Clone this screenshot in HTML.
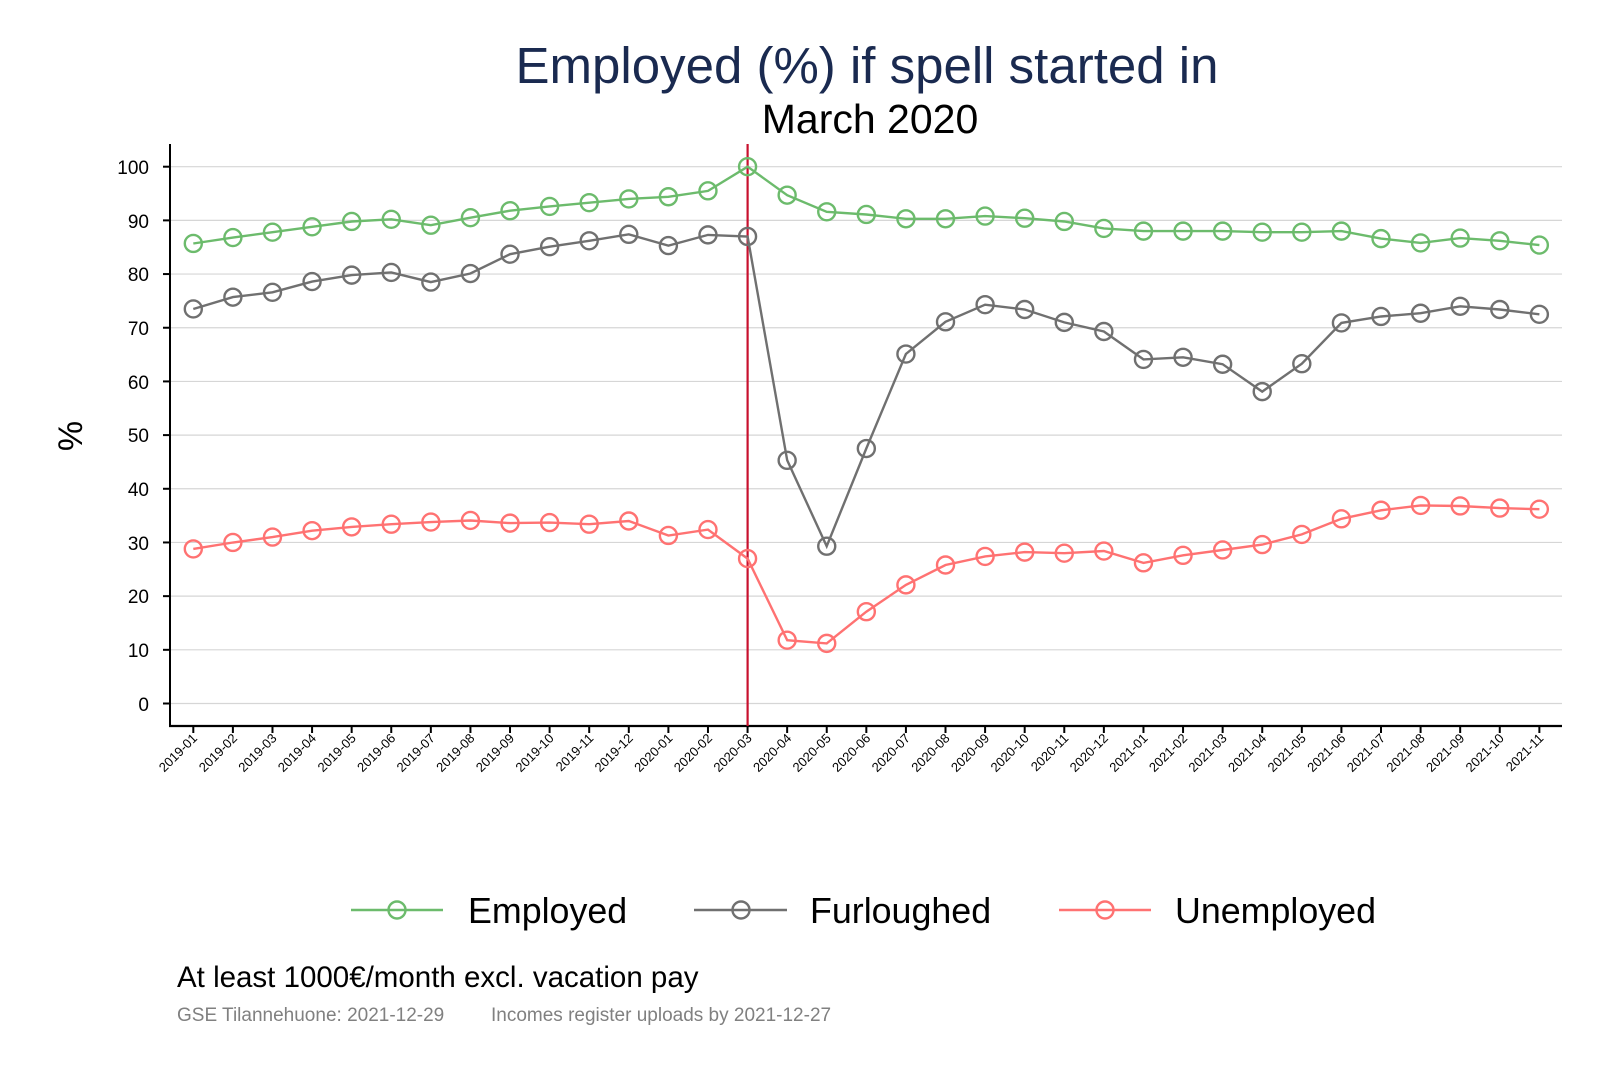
<!DOCTYPE html>
<html><head><meta charset="utf-8"><style>
html,body{margin:0;padding:0;background:#fff;}
svg{display:block;font-family:"Liberation Sans",Arial,sans-serif;}
</style></head><body>
<svg id="c" width="1600" height="1067" viewBox="0 0 1600 1067" xmlns="http://www.w3.org/2000/svg">
<rect width="1600" height="1067" fill="#fff"/>
<text x="867" y="83" font-size="51" fill="#1a2a50" text-anchor="middle">Employed (%) if spell started in</text>
<text x="870" y="133" font-size="41" fill="#000" text-anchor="middle">March 2020</text>
<g id="grid" stroke="#d6d6d6" stroke-width="1.2"></g>
<g font-size="19" text-anchor="end" fill="#000">
<text x="149" y="174">100</text><text x="149" y="228">90</text><text x="149" y="281">80</text><text x="149" y="335">70</text><text x="149" y="389">60</text><text x="149" y="442">50</text><text x="149" y="496">40</text><text x="149" y="550">30</text><text x="149" y="603">20</text><text x="149" y="657">10</text><text x="149" y="711">0</text>
</g>
<text transform="translate(82,436) rotate(-90)" font-size="34" text-anchor="middle">%</text>
<g id="ticks" stroke="#000" stroke-width="2"></g>
<line x1="170" y1="144" x2="170" y2="726" stroke="#000" stroke-width="2"/>
<line x1="169" y1="726" x2="1562" y2="726" stroke="#000" stroke-width="2.2"/>
<line x1="747.6" y1="144" x2="747.6" y2="726" stroke="#c8102e" stroke-width="2.2"/>
<g id="series"></g>
<g font-size="13" text-anchor="end" fill="#000">
<text transform="translate(198,739) rotate(-45)">2019-01</text>
<text transform="translate(238,739) rotate(-45)">2019-02</text>
<text transform="translate(277.5,739) rotate(-45)">2019-03</text>
<text transform="translate(317,739) rotate(-45)">2019-04</text>
<text transform="translate(356.7,739) rotate(-45)">2019-05</text>
<text transform="translate(396.3,739) rotate(-45)">2019-06</text>
<text transform="translate(435.8,739) rotate(-45)">2019-07</text>
<text transform="translate(475.4,739) rotate(-45)">2019-08</text>
<text transform="translate(515,739) rotate(-45)">2019-09</text>
<text transform="translate(554.6,739) rotate(-45)">2019-10</text>
<text transform="translate(594.2,739) rotate(-45)">2019-11</text>
<text transform="translate(633.8,739) rotate(-45)">2019-12</text>
<text transform="translate(673.4,739) rotate(-45)">2020-01</text>
<text transform="translate(713,739) rotate(-45)">2020-02</text>
<text transform="translate(752.6,739) rotate(-45)">2020-03</text>
<text transform="translate(792.2,739) rotate(-45)">2020-04</text>
<text transform="translate(831.7,739) rotate(-45)">2020-05</text>
<text transform="translate(871.3,739) rotate(-45)">2020-06</text>
<text transform="translate(910.9,739) rotate(-45)">2020-07</text>
<text transform="translate(950.5,739) rotate(-45)">2020-08</text>
<text transform="translate(990.1,739) rotate(-45)">2020-09</text>
<text transform="translate(1029.7,739) rotate(-45)">2020-10</text>
<text transform="translate(1069.3,739) rotate(-45)">2020-11</text>
<text transform="translate(1108.9,739) rotate(-45)">2020-12</text>
<text transform="translate(1148.5,739) rotate(-45)">2021-01</text>
<text transform="translate(1188.1,739) rotate(-45)">2021-02</text>
<text transform="translate(1227.6,739) rotate(-45)">2021-03</text>
<text transform="translate(1267.2,739) rotate(-45)">2021-04</text>
<text transform="translate(1306.8,739) rotate(-45)">2021-05</text>
<text transform="translate(1346.4,739) rotate(-45)">2021-06</text>
<text transform="translate(1386,739) rotate(-45)">2021-07</text>
<text transform="translate(1425.6,739) rotate(-45)">2021-08</text>
<text transform="translate(1465.2,739) rotate(-45)">2021-09</text>
<text transform="translate(1504.8,739) rotate(-45)">2021-10</text>
<text transform="translate(1544.3,739) rotate(-45)">2021-11</text>
</g>
<g stroke-width="2.4" fill="none">
<line x1="351" y1="910" x2="443" y2="910" stroke="#6cbb6c"/><circle cx="397" cy="910" r="8.5" stroke="#6cbb6c"/>
<line x1="694" y1="910" x2="787" y2="910" stroke="#707070"/><circle cx="741" cy="910" r="8.5" stroke="#707070"/>
<line x1="1059" y1="910" x2="1151" y2="910" stroke="#ff7272"/><circle cx="1105" cy="910" r="8.5" stroke="#ff7272"/>
</g>
<g font-size="35.8" fill="#000">
<text x="468" y="923">Employed</text>
<text x="810" y="923">Furloughed</text>
<text x="1175" y="923">Unemployed</text>
</g>
<text x="177" y="987" font-size="29.5" fill="#000">At least 1000€/month excl. vacation pay</text>
<text x="177" y="1021" font-size="19" fill="#808080">GSE Tilannehuone: 2021-12-29</text>
<text x="491" y="1021" font-size="19" fill="#808080">Incomes register uploads by 2021-12-27</text>
</svg>
<script>
(function(){
var NS="http://www.w3.org/2000/svg";
function X(i){return 193.3+39.59*i;}
function Y(v){return 703.5-5.368*v;}
var g=document.getElementById("grid"),t=document.getElementById("ticks"),s=document.getElementById("series");
function el(p,n,a){var e=document.createElementNS(NS,n);for(var k in a)e.setAttribute(k,a[k]);p.appendChild(e);return e;}
for(var v=0;v<=100;v+=10){el(g,"line",{x1:171,x2:1562,y1:Y(v),y2:Y(v)});el(t,"line",{x1:163,x2:170,y1:Y(v),y2:Y(v)});}
for(var i=0;i<35;i++)el(t,"line",{x1:X(i),x2:X(i),y1:726,y2:733});
var data=[
["#6cbb6c",[85.7,86.8,87.8,88.8,89.8,90.2,89.1,90.5,91.8,92.6,93.3,94.0,94.4,95.5,100,94.7,91.6,91.1,90.3,90.3,90.8,90.4,89.8,88.5,88.0,88.0,88.0,87.8,87.8,88.0,86.6,85.8,86.7,86.2,85.4]],
["#707070",[73.5,75.7,76.6,78.6,79.8,80.3,78.5,80.1,83.7,85.1,86.2,87.4,85.3,87.3,87.0,45.3,29.3,47.5,65.1,71.1,74.3,73.4,71.0,69.3,64.1,64.5,63.2,58.1,63.3,70.9,72.1,72.7,74.0,73.4,72.5]],
["#ff7272",[28.8,30.0,31.0,32.2,32.9,33.4,33.8,34.1,33.6,33.7,33.4,34.0,31.3,32.4,27.0,11.8,11.2,17.1,22.1,25.8,27.4,28.2,28.0,28.4,26.2,27.6,28.6,29.6,31.5,34.4,36.0,36.9,36.8,36.4,36.2]]];
data.forEach(function(d){
var pts=d[1].map(function(v,i){return X(i).toFixed(1)+","+Y(v).toFixed(1);}).join(" ");
el(s,"polyline",{points:pts,fill:"none",stroke:d[0],"stroke-width":2.4});
d[1].forEach(function(v,i){el(s,"circle",{cx:X(i),cy:Y(v),r:8.5,fill:"none",stroke:d[0],"stroke-width":2.4});});
});
})();
</script>
</body></html>
